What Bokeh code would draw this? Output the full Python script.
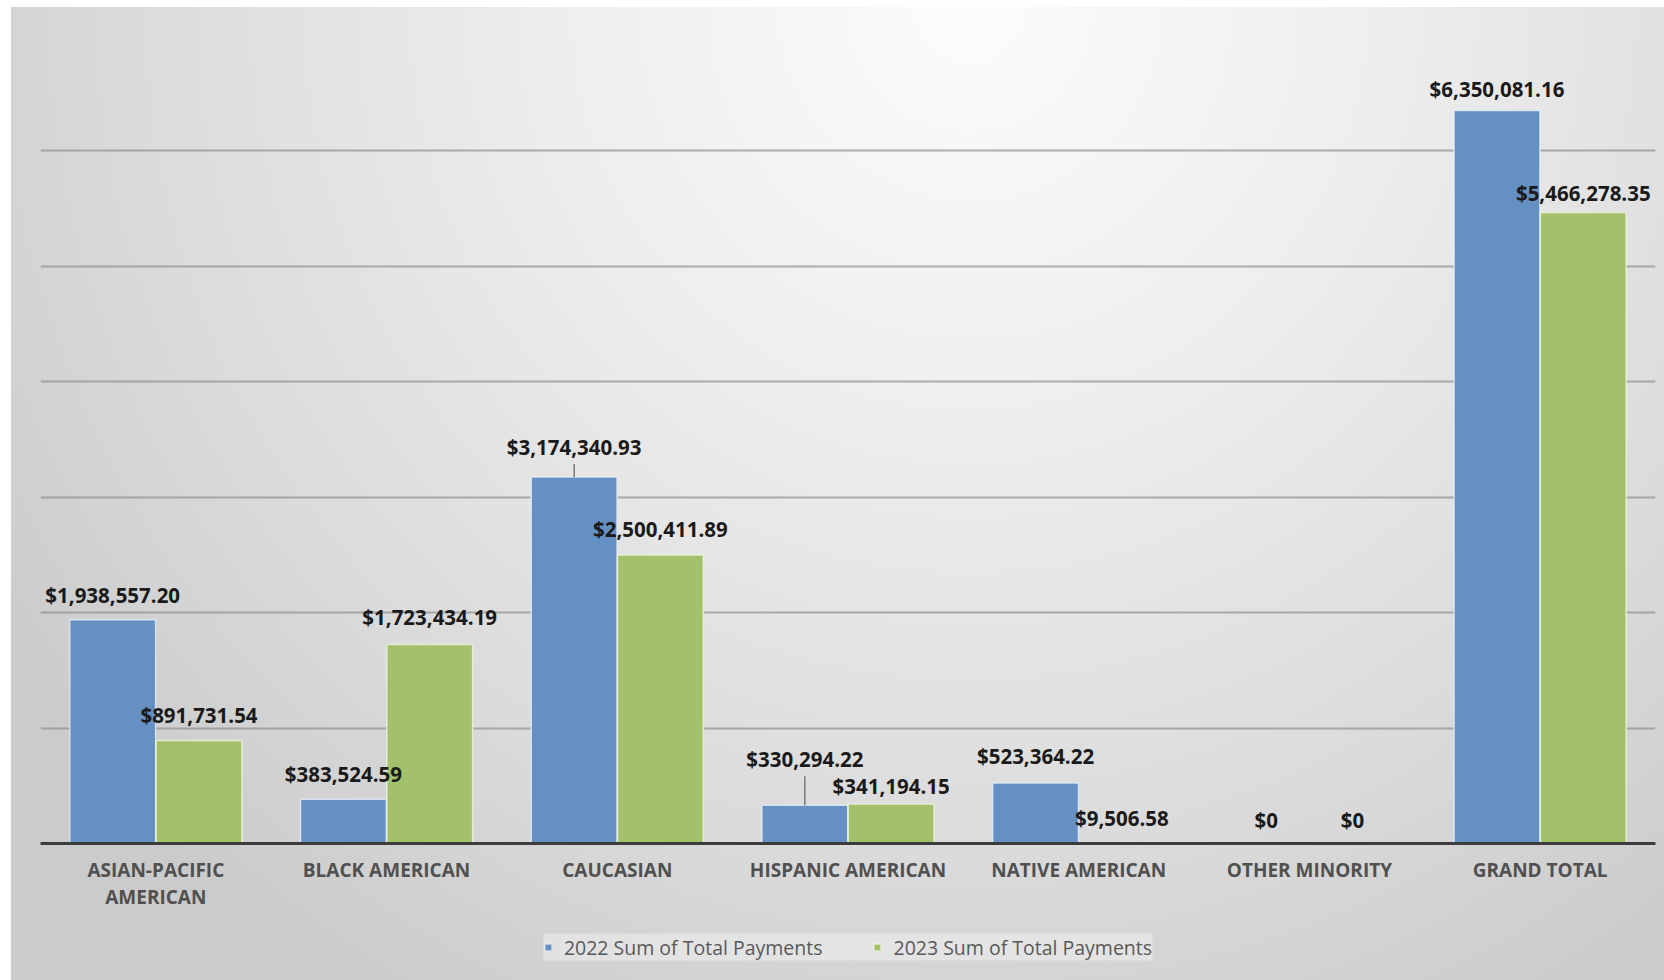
from math import pi
from bokeh.plotting import figure
from bokeh.layouts import column
from bokeh.models import (ColumnDataSource, FactorRange, Range1d, FixedTicker,
                          Legend, LegendItem)
from bokeh.transform import dodge
from bokeh.core.properties import value
from bokeh.embed import file_html
from bokeh.resources import INLINE

# ---------------- data ----------------
categories = ["ASIAN-PACIFIC\nAMERICAN", "BLACK AMERICAN", "CAUCASIAN",
              "HISPANIC AMERICAN", "NATIVE AMERICAN", "OTHER MINORITY", "GRAND TOTAL"]
payments_2022 = [1938557.20, 383524.59, 3174340.93, 330294.22, 523364.22, 0.0, 6350081.16]
payments_2023 = [891731.54, 1723434.19, 2500411.89, 341194.15, 9506.58, 0.0, 5466278.35]
series_names = ["2022 Sum of Total Payments", "2023 Sum of Total Payments"]
y_ticks = [1000000, 2000000, 3000000, 4000000, 5000000, 6000000, 7000000]

# ---------------- styles ----------------
label_gap_2022 = [25, 25, 30, 46, 27, 24, 22]
label_gap_2023 = [26, 28, 26, 18, 24, 24, 20]
leader_2022 = [0, 0, 13, 29, 0, 0, 0]

BLUE = "#6590c4"
GREEN = "#a3c16b"
BAR_W = 0.372
OFF = 0.187


def fmt(v):
    return "$0" if v == 0 else "${:,.2f}".format(v)


src = ColumnDataSource(dict(
    cat=categories,
    v22=payments_2022,
    v23=payments_2023,
    t22=[fmt(v) for v in payments_2022],
    t23=[fmt(v) for v in payments_2023],
    o22=[-g for g in label_gap_2022],
    o23=[-g for g in label_gap_2023],
))

lead_idx = [i for i, l in enumerate(leader_2022) if l > 0]
lead_src = ColumnDataSource(dict(
    cat=[categories[i] for i in lead_idx],
    v=[payments_2022[i] for i in lead_idx],
    length=[leader_2022[i] for i in lead_idx],
))

p = figure(frame_width=1615, frame_height=808, output_backend="svg", toolbar_location=None,
           x_range=FactorRange(*categories), y_range=Range1d(0, 7000000),
           min_border_left=40, min_border_right=9, min_border_top=35,
           min_border_bottom=83, title=None)
p.background_fill_color = None
p.border_fill_color = None
p.outline_line_color = None

bar_line = dict(line_width=1.5, line_alpha=0.8)
r22 = p.vbar(x=dodge("cat", -OFF, range=p.x_range), top="v22", width=BAR_W, source=src,
             fill_color=BLUE, line_color="#e6eef8", **bar_line)
r23 = p.vbar(x=dodge("cat", OFF, range=p.x_range), top="v23", width=BAR_W, source=src,
             fill_color=GREEN, line_color="#eef5e2", **bar_line)

p.ray(x=dodge("cat", -OFF, range=p.x_range), y="v", length="length", length_units="screen",
      angle=pi / 2, source=lead_src, line_color="#606060", line_width=1.2)

common = dict(text_font=value("Open Sans"), text_font_style="bold", text_font_size="20.5px",
              text_color="#1a1a1a", text_align="center", text_baseline="alphabetic")
p.text(x=dodge("cat", -OFF, range=p.x_range), y="v22", text="t22", y_offset="o22",
       source=src, **common)
p.text(x=dodge("cat", OFF, range=p.x_range), y="v23", text="t23", y_offset="o23",
       source=src, **common)

p.yaxis.visible = False
p.xgrid.grid_line_color = None
p.ygrid.ticker = FixedTicker(ticks=y_ticks)
p.ygrid.grid_line_color = "#8f8f8f"
p.ygrid.grid_line_alpha = 0.7
p.ygrid.grid_line_width = 2

xa = p.xaxis[0]
xa.axis_line_color = "#3c3c3c"
xa.axis_line_width = 3
xa.major_tick_line_color = None
xa.minor_tick_line_color = None
xa.major_label_standoff = 7
xa.major_label_text_font = "Open Sans"
xa.major_label_text_font_style = "bold"
xa.major_label_text_font_size = "19px"
xa.major_label_text_color = "#505050"
xa.major_label_text_line_height = 1.07

# ---------------- legend strip ----------------
q = figure(frame_width=1615, frame_height=42, output_backend="svg", toolbar_location=None,
           x_range=Range1d(0, 1), y_range=Range1d(0, 1), title=None,
           x_axis_location=None, y_axis_location=None,
           min_border_left=40, min_border_right=9, min_border_top=0, min_border_bottom=12)
q.background_fill_color = None
q.border_fill_color = None
q.outline_line_color = None
q.xgrid.visible = False
q.ygrid.visible = False
# hidden key renderers (legend swatches only)
k22 = q.vbar(x=[0.5], top=[0.5], width=0.1, fill_color=BLUE, line_color="#e6eef8", **bar_line)
k23 = q.vbar(x=[0.5], top=[0.5], width=0.1, fill_color=GREEN, line_color="#eef5e2", **bar_line)
k22.visible = False
k23.visible = False

legend = Legend(items=[LegendItem(label=series_names[0], renderers=[k22]),
                       LegendItem(label=series_names[1], renderers=[k23])],
                orientation="horizontal", location="center")
legend.click_policy = "none"
legend.inactive_fill_alpha = 0
legend.label_text_font = "Open Sans"
legend.label_text_font_size = "19.5px"
legend.label_text_color = "#595959"
legend.glyph_width = 9
legend.glyph_height = 9
legend.label_standoff = 12
legend.spacing = 50
legend.padding = 14
legend.margin = 0
legend.background_fill_color = "#ececec"
legend.background_fill_alpha = 0.6
legend.border_line_color = None
q.add_layout(legend, "center")

layout = column(p, q, spacing=0)
layout.styles = {
    "background-color": "#ffffff",
    "background-image": "radial-gradient(ellipse 70% 120% at 58% 0%, #fcfcfc 0%, #eeeeee 35%, #dcdcdc 70%, #cbcbcb 100%)",
    "background-size": "calc(100% - 11px) calc(100% - 7px)",
    "background-position": "right bottom",
    "background-repeat": "no-repeat",
}

open("out.html", "w").write(file_html(layout, INLINE))
